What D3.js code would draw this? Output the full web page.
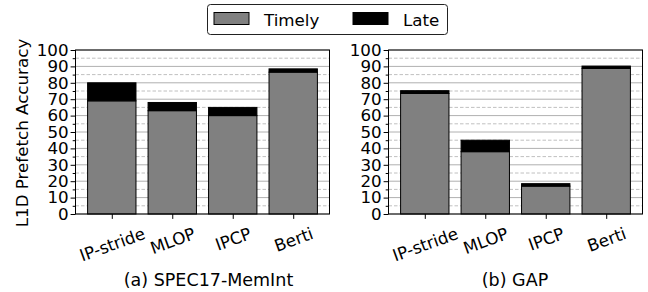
<!DOCTYPE html>
<html><head><meta charset="utf-8">
<script src="https://cdn.jsdelivr.net/npm/d3@7"></script>
<style>body{margin:0;background:#fff}svg{display:block}text{font-family:"DejaVu Sans",sans-serif;fill:#000}</style>
</head><body><svg id="c" width="648" height="292"></svg>
<script>
const categories = ["IP-stride","MLOP","IPCP","Berti"];
const specTimely = [69, 63, 60, 86.5];
const specLate   = [11, 5, 5, 2];
const gapTimely  = [73.5, 38, 17, 88.8];
const gapLate    = [1.7, 7, 1.5, 1.4];
const yTicks = [0,10,20,30,40,50,60,70,80,90,100];
const yMinor = [5,15,25,35,45,55,65,75,85,95];
const panels = [
  {title:"(a) SPEC17-MemInt", timely:specTimely, late:specLate, x0:75.5, x1:329.5, cap:208.5},
  {title:"(b) GAP", timely:gapTimely, late:gapLate, x0:388.5, x1:642.5, cap:515}
];
const colTimely = "#808080", colLate = "#000000";
const svg = d3.select("#c");
const yTop = 50, yBot = 214;
const y = d3.scaleLinear().domain([0,100]).range([yBot, yTop]);
const FS = 16.7;

panels.forEach(p => {
  const x = d3.scaleLinear().domain([-0.6, categories.length - 0.4]).range([p.x0, p.x1]);
  const g = svg.append("g");
  g.selectAll(".gmin").data(yMinor).join("line")
    .attr("x1", p.x0).attr("x2", p.x1).attr("y1", d=>y(d)).attr("y2", d=>y(d))
    .attr("stroke", "#b0b0b0").attr("stroke-width", 0.8).attr("stroke-dasharray", "3.5,2");
  g.selectAll(".gmaj").data(yTicks).join("line")
    .attr("x1", p.x0).attr("x2", p.x1).attr("y1", d=>y(d)).attr("y2", d=>y(d))
    .attr("stroke", "#b0b0b0").attr("stroke-width", 1);
  const bw = 0.8;
  g.selectAll(".bt").data(categories).join("rect")
    .attr("x", (d,i)=>x(i-bw/2)).attr("width", x(bw)-x(0))
    .attr("y", (d,i)=>y(p.timely[i])).attr("height", (d,i)=>y(0)-y(p.timely[i]))
    .attr("fill", colTimely).attr("stroke", "#000").attr("stroke-width", 1);
  g.selectAll(".bl").data(categories).join("rect")
    .attr("x", (d,i)=>x(i-bw/2)).attr("width", x(bw)-x(0))
    .attr("y", (d,i)=>y(p.timely[i]+p.late[i])).attr("height", (d,i)=>y(p.timely[i])-y(p.timely[i]+p.late[i]))
    .attr("fill", colLate).attr("stroke", "#000").attr("stroke-width", 1);
  g.append("rect").attr("x", p.x0).attr("y", yTop).attr("width", p.x1-p.x0).attr("height", yBot-yTop)
    .attr("fill","none").attr("stroke","#000").attr("stroke-width",1);
  const ya = d3.axisLeft(y).tickValues(yTicks).tickSize(4.9).tickPadding(2);
  const yg = svg.append("g").attr("transform", `translate(${p.x0},0)`).call(ya);
  yg.select(".domain").remove();
  yg.attr("font-size", null).attr("font-family", null);
  yg.selectAll("text").attr("font-size", FS);
  const ym = d3.axisLeft(y).tickValues(yMinor).tickSize(2.8).tickFormat("");
  const ymg = svg.append("g").attr("transform", `translate(${p.x0},0)`).call(ym);
  ymg.select(".domain").remove();
  const xa = d3.axisBottom(x).tickValues(d3.range(categories.length)).tickSize(4.9).tickFormat(i=>categories[i]);
  const xg = svg.append("g").attr("transform", `translate(0,${yBot})`).call(xa);
  xg.select(".domain").remove();
  xg.attr("font-size", null).attr("font-family", null);
  const deg = 20, ang = deg * Math.PI/180;
  xg.selectAll("text").attr("font-size", FS)
    .attr("text-anchor","middle").attr("dy", null).attr("y", null)
    .each(function(){
      const w = this.getComputedTextLength();
      const h = FS*0.72;
      const cy = 13 + (w/2)*Math.sin(ang) + (h/2)*Math.cos(ang);
      d3.select(this).attr("dominant-baseline","central")
       .attr("transform", `translate(0,${cy}) rotate(${-deg})`);
    });
  svg.append("text").attr("x", p.cap).attr("y", 286).attr("text-anchor","middle")
    .attr("font-size", 17.5).text(p.title);
});

svg.append("text").attr("transform", `translate(28,${(yTop+yBot)/2+1}) rotate(-90)`)
  .attr("text-anchor","middle").attr("font-size", FS).text("L1D Prefetch Accuracy");

const lg = svg.append("g");
lg.append("rect").attr("x",207.5).attr("y",4.5).attr("width",240).attr("height",30).attr("rx",3)
  .attr("fill","#fff").attr("stroke","#222").attr("stroke-width",1);
const legendItems = [{name:"Timely", color:colTimely, x:214},{name:"Late", color:colLate, x:353}];
legendItems.forEach(it=>{
  lg.append("rect").attr("x",it.x).attr("y",12.5).attr("width",35).attr("height",12)
    .attr("fill",it.color).attr("stroke","#000").attr("stroke-width",1);
  lg.append("text").attr("x",it.x+50).attr("y",25.5).attr("font-size",FS).text(it.name);
});
</script></body></html>
